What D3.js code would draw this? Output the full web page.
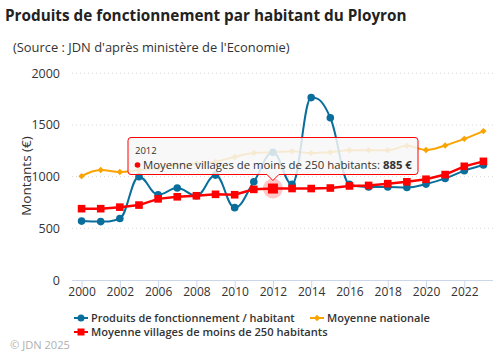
<!DOCTYPE html>
<html><head><meta charset="utf-8">
<script src="https://cdn.jsdelivr.net/npm/d3@7"></script>
<style>body{margin:0;background:#fff}svg{display:block;font-family:"Open Sans",sans-serif}</style>
</head><body><svg id="c" width="502" height="356"></svg>
<script>
const categories=["2000","2001","2002","2005","2006","2007","2008","2009","2010","2011","2012","2013","2014","2015","2016","2017","2018","2019","2020","2021","2022","2023"];
const produits=[570,565,595,1000,825,890,815,1015,700,950,1235,925,1765,1570,925,900,900,895,928,983,1057,1112];
const nationale=[1005,1065,1045,1065,1085,1110,1128,1145,1190,1230,1235,1245,1228,1236,1255,1255,1255,1298,1258,1302,1366,1441];
const villages=[690,690,705,725,785,805,815,829,825,877,885,885,885,890,910,915,932,950,975,1020,1100,1148];
const yTicks=[0,500,1000,1500,2000];
const xTickLabels=["2000","2002","2006","2008","2010","2012","2014","2016","2018","2020","2022"];
const seriesNames=["Produits de fonctionnement / habitant","Moyenne nationale","Moyenne villages de moins de 250 habitants"];
const tooltipCategory="2012";

const BLUE="#0a6e9c",ORANGE="#f9a400",RED="#ff0000",TXT="#333333";
const svg=d3.select("#c");
const x=d3.scalePoint().domain(categories).range([72,493]).padding(0.5);
const y=d3.scaleLinear().domain([0,2000]).range([280,73.3]);

function fit(sel,w){const l=sel.node().getComputedTextLength();const fs=parseFloat(sel.attr("font-size"));sel.attr("font-size",fs*w/l);}

// titles
fit(svg.append("text").attr("x",5).attr("y",21).attr("font-size",16).attr("font-weight",700).attr("fill","#222")
  .text("Produits de fonctionnement par habitant du Ployron"),402);
fit(svg.append("text").attr("x",13).attr("y",52).attr("font-size",13).attr("fill",TXT)
  .text("(Source : JDN d'après ministère de l'Economie)"),277);

// grid
svg.append("g").selectAll("line").data(yTicks.filter(d=>d>0)).join("line")
  .attr("x1",72).attr("x2",493).attr("y1",d=>y(d)).attr("y2",d=>y(d))
  .attr("stroke","#d8d8d8").attr("stroke-dasharray","1,3");

// y axis labels
svg.append("g").selectAll("text").data(yTicks).join("text")
  .attr("x",60).attr("y",d=>y(d)+4.5).attr("text-anchor","end").attr("font-size",12.5).attr("fill",TXT).text(d=>d);
svg.append("text").attr("transform","translate(31,176) rotate(-90)").attr("text-anchor","middle")
  .attr("font-size",13.5).attr("fill",TXT).text("Montants (€)");

// x axis
const xa=svg.append("g").attr("transform","translate(0,280)")
  .call(d3.axisBottom(x).tickValues(xTickLabels).tickSize(8).tickPadding(5));
xa.select(".domain").attr("stroke","#ccd6eb").attr("d","M72,0.5H493");
xa.selectAll(".tick line").attr("stroke","#ccd6eb");
xa.selectAll(".tick text").attr("font-size",12).attr("fill",TXT).attr("font-family","Open Sans, sans-serif").attr("y",7).attr("dy","0.71em");

// Highcharts-like spline path
function spline(pts){
  const s=1.5,den=2.5;let d=`M${pts[0][0]},${pts[0][1]}`;const rc=[];
  for(let i=0;i<pts.length;i++){
    const [px,py]=pts[i];let lcx=px,lcy=py;
    if(i>0&&i<pts.length-1){
      const [lx,ly]=pts[i-1],[nx,ny]=pts[i+1];
      lcx=(s*px+lx)/den;lcy=(s*py+ly)/den;let rcx=(s*px+nx)/den,rcy=(s*py+ny)/den;
      if(rcx!==lcx){const c=((rcy-lcy)*(rcx-px))/(rcx-lcx)+py-rcy;lcy+=c;rcy+=c;}
      if(lcy>ly&&lcy>py){lcy=Math.max(ly,py);rcy=2*py-lcy;}else if(lcy<ly&&lcy<py){lcy=Math.min(ly,py);rcy=2*py-lcy;}
      if(rcy>ny&&rcy>py){rcy=Math.max(ny,py);lcy=2*py-rcy;}else if(rcy<ny&&rcy<py){rcy=Math.min(ny,py);lcy=2*py-rcy;}
      rc[i]=[rcx,rcy];
    }
    if(i>0){const r=rc[i-1]||pts[i-1];d+=`C${r[0]},${r[1]} ${lcx},${lcy} ${px},${py}`;}
  }
  return d;
}
const pts=v=>v.map((d,i)=>[x(categories[i]),y(d)]);
const diamond=d3.symbol().type(d3.symbolDiamond2).size(26);

// orange
svg.append("path").attr("d",spline(pts(nationale))).attr("fill","none").attr("stroke",ORANGE).attr("stroke-width",2);
svg.append("g").selectAll("path").data(nationale).join("path")
  .attr("transform",(d,i)=>`translate(${x(categories[i])},${y(d)})`).attr("d",diamond()).attr("fill",ORANGE);
// blue
svg.append("path").attr("d",spline(pts(produits))).attr("fill","none").attr("stroke",BLUE).attr("stroke-width",2);
svg.append("g").selectAll("circle").data(produits).join("circle")
  .attr("cx",(d,i)=>x(categories[i])).attr("cy",d=>y(d)).attr("r",3.8).attr("fill",BLUE);
// red
svg.append("path").attr("d",d3.line().x((d,i)=>x(categories[i])).y(d=>y(d))(villages)).attr("fill","none").attr("stroke",RED).attr("stroke-width",2.5);
svg.append("g").selectAll("rect").data(villages).join("rect")
  .attr("x",(d,i)=>x(categories[i])-3.8).attr("y",d=>y(d)-3.8).attr("width",7.6).attr("height",7.6).attr("fill",RED);

// hover state
const ti=categories.indexOf(tooltipCategory);const hx=x(tooltipCategory),hy=y(villages[ti]);
svg.append("circle").attr("cx",hx).attr("cy",hy).attr("r",10).attr("fill",RED).attr("opacity",0.22);
svg.append("rect").attr("x",hx-5).attr("y",hy-5).attr("width",10).attr("height",10).attr("fill",RED);

// tooltip
const bx0=128,bx1=418,by0=137.5,by1=174.5;
svg.append("path").attr("d",`M${bx0+3},${by0}H${bx1-3}Q${bx1},${by0} ${bx1},${by0+3}V${by1-3}Q${bx1},${by1} ${bx1-3},${by1}H${hx+6}L${hx},${by1+6}L${hx-6},${by1}H${bx0+3}Q${bx0},${by1} ${bx0},${by1-3}V${by0+3}Q${bx0},${by0} ${bx0+3},${by0}Z`)
  .attr("fill","rgba(247,247,247,0.85)").attr("stroke",RED).attr("stroke-width",1);
svg.append("text").attr("x",135).attr("y",154).attr("font-size",9.5).attr("fill",TXT).text(tooltipCategory);
svg.append("circle").attr("cx",137.5).attr("cy",165).attr("r",2.8).attr("fill",RED);
const tt=svg.append("text").attr("x",143).attr("y",169).attr("font-size",13).attr("fill",TXT);
tt.append("tspan").text(seriesNames[2]+": ");
tt.append("tspan").attr("font-weight",700).text(d3.format(",")(villages[ti])+" €");
fit(tt,269);

// legend
const legend=[{n:seriesNames[0],c:BLUE,s:"c",x:74,y:318},{n:seriesNames[1],c:ORANGE,s:"d",x:310,y:318},{n:seriesNames[2],c:RED,s:"r",x:74,y:332}];
const widths=[204,103,237];
legend.forEach((l,i)=>{
  const g=svg.append("g");
  g.append("line").attr("x1",l.x).attr("x2",l.x+14).attr("y1",l.y).attr("y2",l.y).attr("stroke",l.c).attr("stroke-width",2);
  if(l.s==="c")g.append("circle").attr("cx",l.x+7).attr("cy",l.y).attr("r",3.5).attr("fill",l.c);
  if(l.s==="d")g.append("path").attr("transform",`translate(${l.x+7},${l.y})`).attr("d",diamond()).attr("fill",l.c);
  if(l.s==="r")g.append("rect").attr("x",l.x+3.5).attr("y",l.y-3.5).attr("width",7).attr("height",7).attr("fill",l.c);
  fit(g.append("text").attr("x",l.x+17).attr("y",l.y+4).attr("font-size",12).attr("font-weight",600).attr("fill",TXT).text(l.n),widths[i]);
});
fit(svg.append("text").attr("x",10).attr("y",349).attr("font-size",11).attr("fill","#b0b0b0").text("© JDN 2025"),60);
</script></body></html>
